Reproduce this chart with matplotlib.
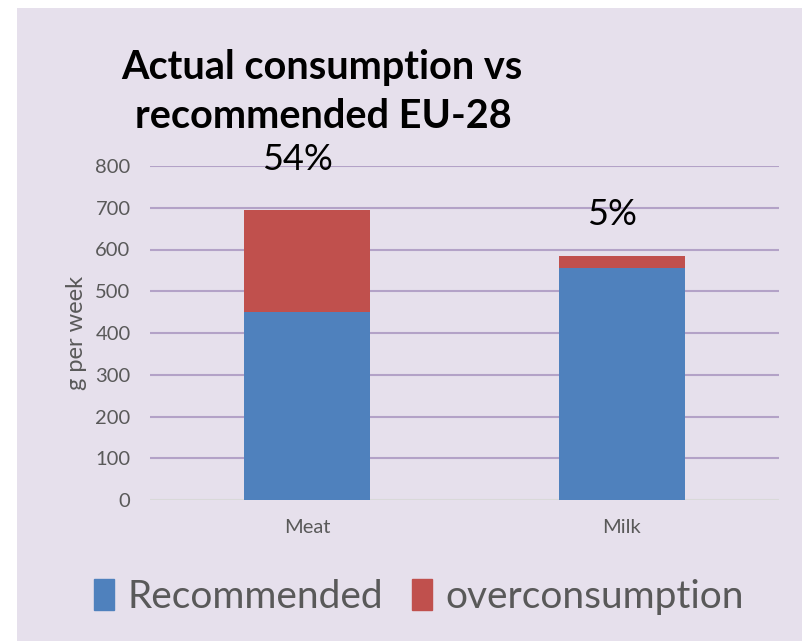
import matplotlib.pyplot as plt
import matplotlib.patches as mpatches
import numpy as np

plt.rcParams['font.family'] = ['Lato', 'DejaVu Sans']

categories = ["Meat", "Milk"]
recommended = [450, 556]
overconsumption = [245, 28]
pct_labels = ["54%", "5%"]
yticks = [0, 100, 200, 300, 400, 500, 600, 700, 800]

blue = "#4F81BD"
red = "#C0504D"
bg = "#E6E0EC"
grey_txt = "#595959"

fig = plt.figure(figsize=(8.02, 6.41), dpi=100)
fig.patch.set_facecolor("white")
fig.patches.append(mpatches.Rectangle((17 / 802, 0), 1, 633 / 641, transform=fig.transFigure,
                                      facecolor=bg, edgecolor="none", zorder=-10))

ax = fig.add_axes([150 / 802, 141 / 641, 629 / 802, 334 / 641])
ax.set_facecolor("none")

x = np.arange(len(categories))
ax.bar(x, recommended, width=0.4, color=blue, zorder=3)
ax.bar(x, overconsumption, width=0.4, bottom=recommended, color=red, zorder=3)

# percentage labels sit well above the bars
tops = np.array(recommended) + np.array(overconsumption)
offs = [120, 99]
for i, lab in enumerate(pct_labels):
    ax.text(x[i] - 0.03, tops[i] + offs[i], lab, ha="center", va="center", fontsize=26,
            color="black", zorder=5)

ax.set_xlim(-0.5, 1.5)
ax.set_ylim(0, 800)
ax.set_yticks(yticks)
ax.set_xticks(x)
ax.set_xticklabels(categories)
ax.tick_params(length=0, labelsize=14.5, labelcolor=grey_txt, pad=14)
for t in yticks[1:]:
    ax.axhline(t, color="#B3A2C7", lw=1.5, zorder=1)
ax.axhline(0, color="#D9D9D9", lw=1.5, zorder=1)
for s in ax.spines.values():
    s.set_visible(False)

ax.set_ylabel("g per week", fontsize=17, color=grey_txt, labelpad=6)

fig.text(322 / 802, 1 - 68 / 641, "Actual consumption vs", ha="center", va="center",
         fontsize=28.5, fontweight="bold", color="black")
fig.text(323 / 802, 1 - 117 / 641, "recommended EU-28", ha="center", va="center",
         fontsize=28.5, fontweight="bold", color="black")

handles = [mpatches.Patch(color=blue, label="Recommended"),
           mpatches.Patch(color=red, label="overconsumption")]
leg = fig.legend(handles=handles, loc="center", bbox_to_anchor=(419 / 802, 1 - 597 / 641),
                 ncol=2, frameon=False, fontsize=28, handlelength=0.5, handleheight=0.85,
                 handletextpad=0.35, columnspacing=0.75)
for t in leg.get_texts():
    t.set_color(grey_txt)

fig.savefig("out.png", dpi=100)
